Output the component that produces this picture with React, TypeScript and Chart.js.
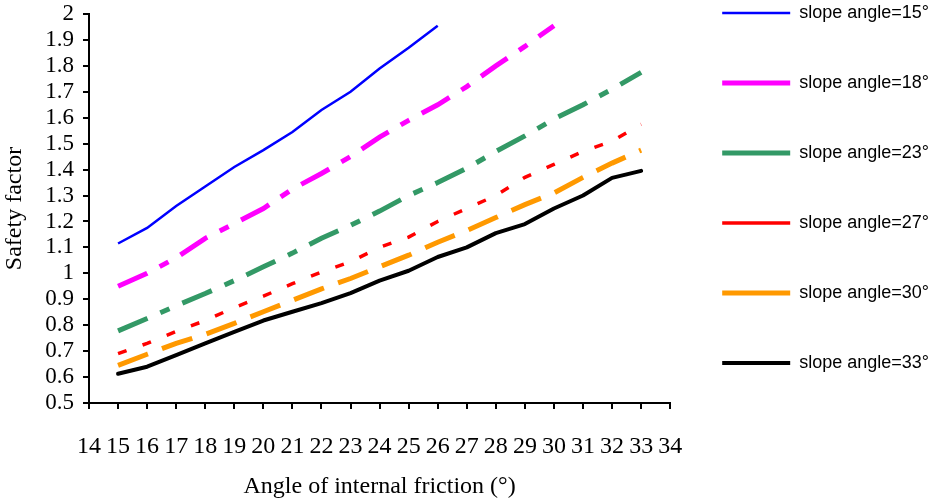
import React, { useEffect, useRef } from 'react';
import { Chart, registerables } from 'chart.js';

Chart.register(...registerables);

// Angle of internal friction (x categories)
const frictionAngles = [15, 16, 17, 18, 19, 20, 21, 22, 23, 24, 25, 26, 27, 28, 29, 30, 31, 32, 33];

// Safety factor series
const slope15 = [1.115, 1.175, 1.26, 1.335, 1.41, 1.475, 1.545, 1.63, 1.7, 1.79, 1.87, 1.955];
const slope18 = [0.95, 1.0, 1.06, 1.135, 1.192, 1.25, 1.325, 1.385, 1.45, 1.525, 1.59, 1.65, 1.72, 1.8, 1.875, 1.955];
const slope23 = [0.778, 0.826, 0.875, 0.922, 0.972, 1.025, 1.078, 1.135, 1.185, 1.24, 1.3, 1.35, 1.405, 1.47, 1.53, 1.595, 1.65, 1.71, 1.775];
const slope27 = [0.69, 0.73, 0.776, 0.818, 0.868, 0.912, 0.96, 1.005, 1.045, 1.1, 1.14, 1.2, 1.25, 1.3, 1.37, 1.42, 1.47, 1.51, 1.575];
const slope30 = [0.645, 0.688, 0.73, 0.765, 0.807, 0.852, 0.896, 0.94, 0.98, 1.025, 1.07, 1.12, 1.165, 1.215, 1.265, 1.31, 1.37, 1.425, 1.475];
const slope33 = [0.613, 0.64, 0.685, 0.73, 0.774, 0.818, 0.852, 0.885, 0.924, 0.972, 1.01, 1.063, 1.1, 1.155, 1.19, 1.25, 1.3, 1.368, 1.395];

const seriesLabels = [
  'slope angle=15°',
  'slope angle=18°',
  'slope angle=23°',
  'slope angle=27°',
  'slope angle=30°',
  'slope angle=33°',
];

const SERIF = "'Liberation Serif', 'Times New Roman', serif";
const SANS = "'Liberation Sans', Arial, sans-serif";

export default function App() {
  const ref = useRef<HTMLCanvasElement>(null);

  useEffect(() => {
    const toPoints = (vals: number[]) => vals.map((v, i) => ({ x: frictionAngles[i], y: v }));
    const axisGrid = {
      display: true,
      drawOnChartArea: false,
      drawTicks: true,
      tickLength: 6,
      color: '#000',
      lineWidth: 2,
    };
    const axisBorder = { display: true, color: '#000', width: 2 };

    const chart = new Chart(ref.current as HTMLCanvasElement, {
      type: 'line',
      data: {
        datasets: [
          {
            label: seriesLabels[0],
            data: toPoints(slope15),
            borderColor: '#0000FF',
            backgroundColor: '#0000FF',
            borderWidth: 2.5,
            pointRotation: 180,
          },
          {
            label: seriesLabels[1],
            data: toPoints(slope18),
            borderColor: '#FF00FF',
            backgroundColor: '#FF00FF',
            borderWidth: 5,
            borderDash: [32, 14, 10, 14],
            pointRotation: 180,
          },
          {
            label: seriesLabels[2],
            data: toPoints(slope23),
            borderColor: '#339966',
            backgroundColor: '#339966',
            borderWidth: 5,
            borderDash: [32, 14, 10, 14],
            pointRotation: 180,
          },
          {
            label: seriesLabels[3],
            data: toPoints(slope27),
            borderColor: '#FF0000',
            backgroundColor: '#FF0000',
            borderWidth: 3.5,
            borderDash: [9, 17],
            pointRotation: 180,
          },
          {
            label: seriesLabels[4],
            data: toPoints(slope30),
            borderColor: '#FF9900',
            backgroundColor: '#FF9900',
            borderWidth: 5,
            borderDash: [32, 15],
            pointRotation: 180,
          },
          {
            label: seriesLabels[5],
            data: toPoints(slope33),
            borderColor: '#000000',
            backgroundColor: '#000000',
            borderWidth: 4,
            borderCapStyle: 'round',
            borderJoinStyle: 'round',
            pointRotation: 180,
          },
        ],
      },
      options: {
        responsive: false,
        animation: false,
        layout: { padding: { top: 0, right: 0, bottom: 0, left: 0 } },
        elements: {
          point: { radius: 0, hoverRadius: 0 },
          line: { tension: 0, fill: false },
        },
        plugins: {
          legend: {
            position: 'right',
            align: 'start',
            maxWidth: 320,
            title: {
              display: true,
              text: '',
              font: { size: 10 },
              padding: { top: 0, bottom: -60 },
            },
            labels: {
              usePointStyle: true,
              pointStyle: 'line',
              pointStyleWidth: 68,
              boxHeight: 18,
              padding: 52,
              color: '#000',
              font: { family: SANS, size: 18 },
            },
          },
          tooltip: { enabled: false },
        },
        scales: {
          x: {
            type: 'linear',
            min: 14,
            max: 34,
            afterFit: (s: any) => {
              s.height = 98;
            },
            ticks: {
              stepSize: 1,
              padding: 23,
              color: '#000',
              autoSkip: false,
              maxRotation: 0,
              font: { family: SERIF, size: 24 },
              callback: (v: any) => String(v),
            },
            grid: axisGrid,
            border: axisBorder,
            title: {
              display: true,
              text: 'Angle of internal friction (°)',
              color: '#000',
              font: { family: SERIF, size: 24 },
              padding: { top: 0, bottom: 0 },
            },
          },
          y: {
            type: 'linear',
            min: 0.5,
            max: 2,
            afterFit: (s: any) => {
              s.width = 89;
              s.paddingTop = 14;
            },
            ticks: {
              stepSize: 0.1,
              padding: 9,
              autoSkip: false,
              color: '#000',
              font: { family: SERIF, size: 23 },
              callback: (v: any) => String(Math.round(Number(v) * 10) / 10),
            },
            grid: axisGrid,
            border: axisBorder,
            title: {
              display: true,
              text: 'Safety factor',
              color: '#000',
              font: { family: SERIF, size: 24 },
              padding: { top: 0, bottom: 0 },
            },
          },
        },
      },
    } as any);

    return () => chart.destroy();
  }, []);

  return (
    <div style={{ position: 'absolute', left: 0, top: 0, width: 939, height: 501, background: '#fff' }}>
      <canvas ref={ref} width={939} height={501} style={{ display: 'block' }} />
    </div>
  );
}
